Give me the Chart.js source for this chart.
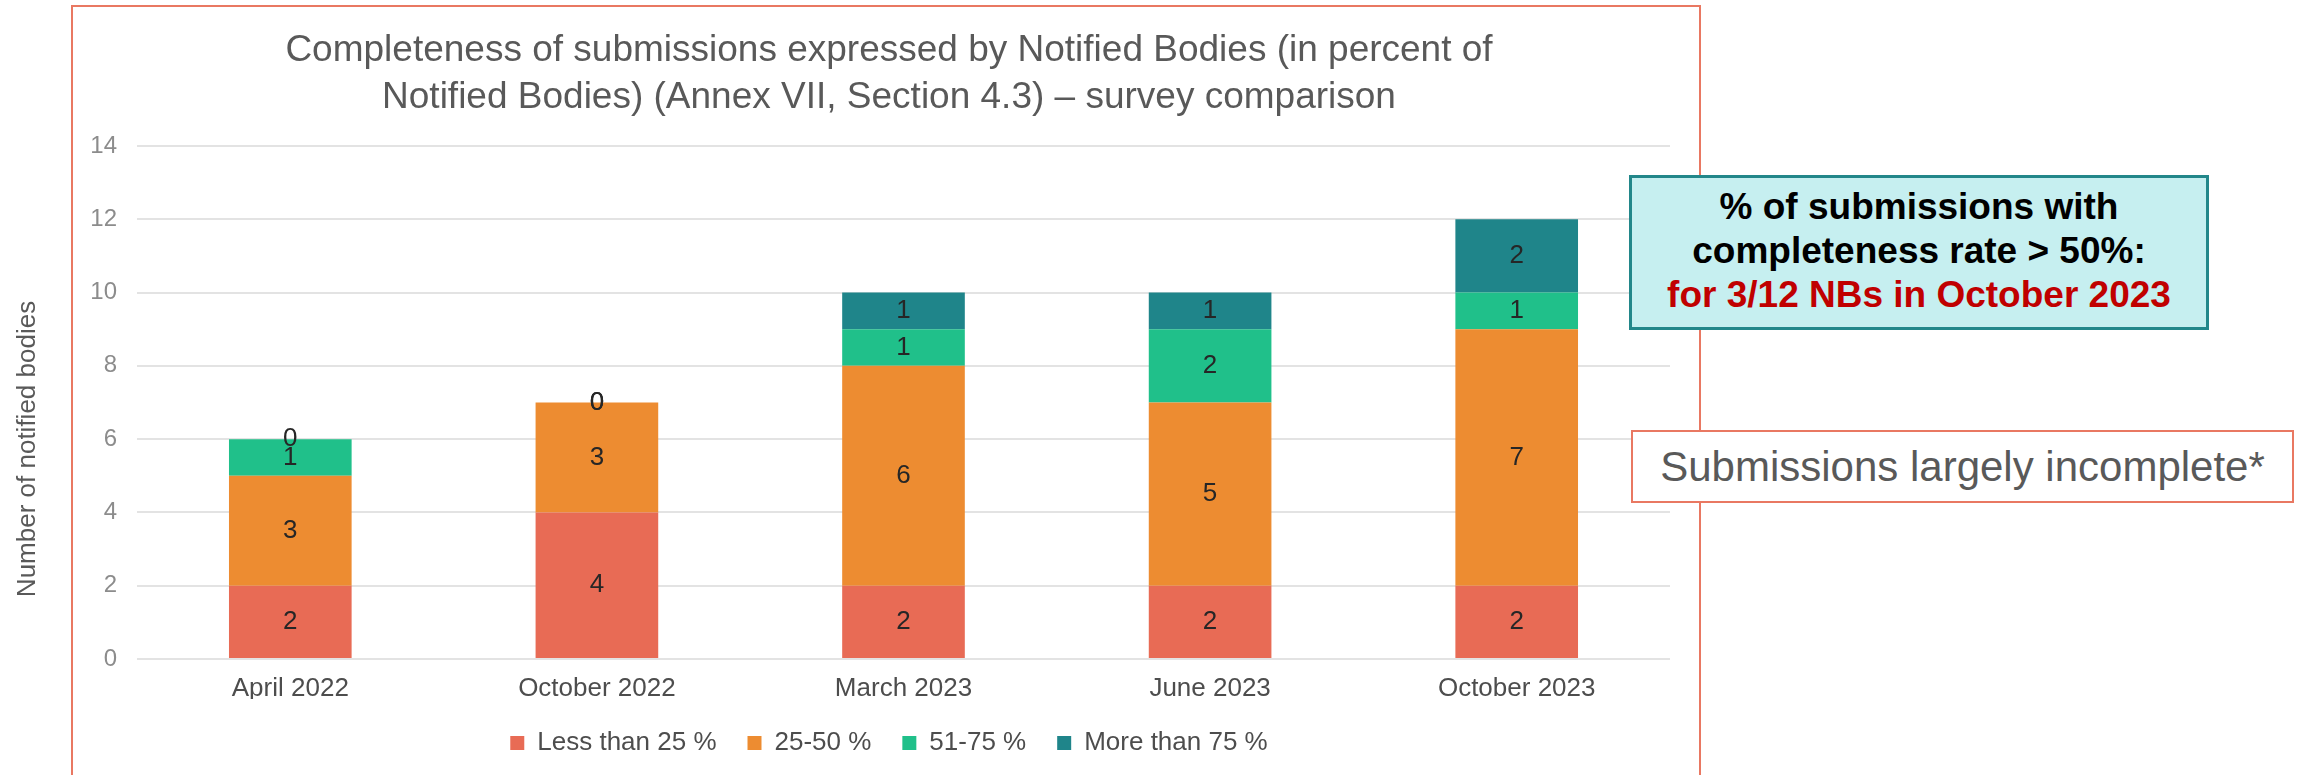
<!DOCTYPE html>
<html>
<head>
<meta charset="utf-8">
<title>Completeness of submissions</title>
<script src="https://cdn.jsdelivr.net/npm/chart.js@4/dist/chart.umd.min.js"></script>
<style>
  html, body { margin: 0; padding: 0; background: #fff; overflow: hidden; }
  body { width: 2306px; height: 775px; position: relative; font-family: "Liberation Sans", Arial, sans-serif; }
  #frame {
    position: absolute; left: 71px; top: 5px; width: 1630px; height: 820px;
    border: 2px solid #E97862; box-sizing: border-box;
  }
  #wrap { position: absolute; left: 0; top: 0; width: 1770px; height: 766px; }
  .note-teal {
    position: absolute; left: 1629px; top: 175px; width: 580px; height: 155px;
    box-sizing: border-box; border: 3px solid #22878A; background: #C6EFF0;
    padding-top: 7px; text-align: center; font-weight: bold; font-size: 37px; line-height: 44px; color: #000;
  }
  .note-teal .hl { color: #C00000; }
  .note-plain {
    position: absolute; left: 1631px; top: 430px; width: 663px; height: 73px;
    box-sizing: border-box; border: 2px solid #E97862; background: #fff;
    text-align: center; font-size: 42px; line-height: 69px; color: #595959;
  }
</style>
</head>
<body>
<div id="frame"></div>
<div id="wrap"><canvas id="nb-chart"></canvas></div>
<div class="note-teal">% of submissions with<br>completeness rate &gt; 50%:<br><span class="hl">for 3/12 NBs in October 2023</span></div>
<div class="note-plain">Submissions largely incomplete*</div>

<script>
// ─── Survey data (number of notified bodies per completeness band) ───
const surveys = ['April 2022', 'October 2022', 'March 2023', 'June 2023', 'October 2023'];
const lessThan25 = [2, 4, 2, 2, 2];
const from25to50 = [3, 3, 6, 5, 7];
const from51to75 = [1, 0, 1, 2, 1];
const moreThan75 = [0, 0, 1, 1, 2];

const titleLines = [
  'Completeness of submissions expressed by Notified Bodies (in percent of',
  'Notified Bodies) (Annex VII, Section 4.3) – survey comparison',
];
const yAxisCaption = 'Number of notified bodies';

const FONT = '"Liberation Sans", Arial, sans-serif';
Chart.defaults.font.family = FONT;

// value printed in the middle of each stacked segment
const segmentLabels = {
  id: 'segmentLabels',
  afterDatasetsDraw(chart) {
    const { ctx } = chart;
    ctx.save();
    ctx.font = '26px ' + FONT;
    ctx.fillStyle = '#262626';
    ctx.textAlign = 'center';
    ctx.textBaseline = 'middle';
    chart.data.datasets.forEach((ds, i) => {
      const meta = chart.getDatasetMeta(i);
      if (meta.hidden) return;
      meta.data.forEach((bar, j) => {
        const { x, y, base } = bar.getProps(['x', 'y', 'base'], true);
        ctx.fillText(String(ds.data[j]), x, (y + base) / 2);
      });
    });
    ctx.restore();
  },
};

// rotated y caption, sits a bit lower than the plot centre
const axisCaption = {
  id: 'axisCaption',
  afterDraw(chart) {
    const { ctx } = chart;
    ctx.save();
    ctx.translate(28, 449);
    ctx.rotate(-Math.PI / 2);
    ctx.font = '26px ' + FONT;
    ctx.fillStyle = '#595959';
    ctx.textAlign = 'center';
    ctx.textBaseline = 'middle';
    ctx.fillText(yAxisCaption, 0, 0);
    ctx.restore();
  },
};

new Chart(document.getElementById('nb-chart'), {
  type: 'bar',
  data: {
    labels: surveys,
    datasets: [
      { label: 'Less than 25 %', data: lessThan25, backgroundColor: '#E86B55' },
      { label: '25-50 %', data: from25to50, backgroundColor: '#ED8C31' },
      { label: '51-75 %', data: from51to75, backgroundColor: '#20C08A' },
      { label: 'More than 75 %', data: moreThan75, backgroundColor: '#1F858A' },
    ],
  },
  options: {
    responsive: true,
    maintainAspectRatio: false,
    animation: false,
    categoryPercentage: 1,
    barPercentage: 0.4,
    layout: { padding: { left: 8, right: 0, top: 0, bottom: 0 } },
    plugins: {
      title: {
        display: true,
        text: titleLines,
        color: '#595959',
        font: { size: 37, weight: 'normal', lineHeight: 1.27 },
        padding: { top: 27, bottom: 25 },
      },
      legend: {
        position: 'bottom',
        labels: {
          boxWidth: 14,
          boxHeight: 14,
          padding: 31,
          color: '#4D4D4D',
          font: { size: 26 },
        },
      },
      tooltip: { enabled: false },
    },
    scales: {
      x: {
        stacked: true,
        afterFit: (scale) => { scale.height = 40; },
        grid: { display: false, drawTicks: false },
        border: { display: false },
        ticks: {
          color: '#4D4D4D',
          padding: 17,
          font: { size: 26, lineHeight: 1 },
        },
      },
      y: {
        stacked: true,
        min: 0,
        max: 14,
        afterFit: (scale) => { scale.width = 129; },
        grid: { color: '#E3E3E3', lineWidth: 2, drawTicks: false },
        border: { display: false },
        ticks: {
          stepSize: 2,
          color: '#8C8C8C',
          padding: 20,
          font: { size: 24 },
        },
      },
      // empty right gutter so title and legend centre where the frame does
      gutter: {
        type: 'linear',
        position: 'right',
        grid: { display: false },
        border: { display: false },
        ticks: { display: false },
        afterFit: (scale) => { scale.width = 100; },
      },
    },
  },
  plugins: [segmentLabels, axisCaption],
});
</script>
</body>
</html>
